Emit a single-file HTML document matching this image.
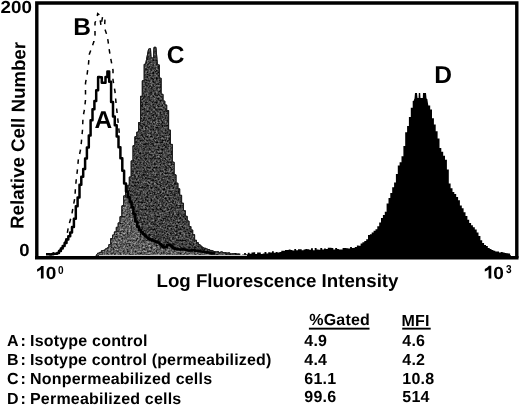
<!DOCTYPE html>
<html><head><meta charset="utf-8"><style>
html,body{margin:0;padding:0;background:#fff;}
body{width:520px;height:406px;overflow:hidden;position:relative;}
svg{position:absolute;left:0;top:0;filter:grayscale(1);}
text{font-family:"Liberation Sans",sans-serif;text-rendering:geometricPrecision;}
</style></head><body>
<svg width="520" height="406" viewBox="0 0 520 406">
<rect x="0" y="0" width="520" height="406" fill="#fff"/>
<defs><clipPath id="cc"><polygon points="96.0,256.0 97.7,253.2 99.6,253.2 99.6,252.4 101.4,252.4 101.4,250.8 103.3,250.8 103.3,250.4 105.1,250.4 105.1,249.0 107.0,249.0 107.0,247.9 108.9,247.9 108.9,244.6 110.7,244.6 110.7,238.6 112.6,238.6 112.6,235.0 114.4,235.0 114.4,231.9 116.3,231.9 116.3,227.3 118.2,227.3 118.2,222.9 120.0,222.9 120.0,216.6 121.9,216.6 121.9,205.8 123.7,205.8 123.7,195.9 125.6,195.9 125.6,190.1 127.5,190.1 127.5,185.3 129.3,185.3 129.3,177.0 131.2,177.0 131.2,160.9 133.0,160.9 133.0,145.7 134.9,145.7 134.9,136.7 136.8,136.7 136.8,132.1 138.6,132.1 138.6,122.5 140.5,122.5 140.5,96.3 142.3,96.3 142.3,80.8 144.2,80.8 144.2,64.3 145.6,64.3 146.5,59.6 148.6,49.0 150.5,48.7 151.0,58.0 153.5,58.0 154.0,47.3 155.9,47.3 157.0,59.6 157.4,64.9 159.3,64.9 159.3,78.2 161.1,78.2 161.1,94.3 163.0,94.3 163.0,101.1 164.8,101.1 164.8,105.0 166.7,105.0 166.7,110.5 168.6,110.5 168.6,130.1 170.4,130.1 170.4,144.4 172.3,144.4 172.3,162.2 174.1,162.2 174.1,174.8 176.0,174.8 176.0,183.2 177.9,183.2 177.9,188.8 179.7,188.8 179.7,195.3 181.6,195.3 181.6,203.2 183.4,203.2 183.4,210.7 185.3,210.7 185.3,216.3 187.2,216.3 187.2,221.1 189.0,221.1 189.0,226.5 190.9,226.5 190.9,230.0 192.7,230.0 192.7,234.7 194.6,234.7 194.6,240.3 196.5,240.3 196.5,242.7 198.3,242.7 198.3,244.8 200.2,244.8 200.2,246.2 202.0,246.2 202.0,247.8 203.9,247.8 203.9,248.3 205.8,248.3 205.8,249.0 207.6,249.0 207.6,249.5 209.5,249.5 209.5,250.4 211.3,250.4 211.3,250.8 213.2,250.8 213.2,251.5 215.1,251.5 215.1,251.9 216.9,251.9 216.9,251.8 218.8,251.8 218.8,252.8 220.6,252.8 220.6,251.9 222.5,251.9 222.5,252.6 224.4,252.6 224.4,252.7 226.2,252.7 226.2,253.1 228.1,253.1 228.1,252.9 229.9,252.9 229.9,254.0 231.8,254.0 231.8,253.8 233.7,253.8 233.7,253.6 235.5,253.6 235.5,254.6 237.4,254.6 237.4,254.3 239.2,254.3 239.2,255.0 240.0,255.0 240.0,257.0"/></clipPath>
<clipPath id="cl"><polygon points="90.0,257.0 90.0,240.0 126.0,191.5 127.8,191.5 127.8,197.1 129.7,197.1 129.7,202.3 131.6,202.3 131.6,207.2 133.4,207.2 133.4,213.9 135.3,213.9 135.3,221.6 137.1,221.6 137.1,226.7 139.0,226.7 139.0,230.0 140.9,230.0 140.9,232.2 142.7,232.2 142.7,234.0 144.6,234.0 144.6,235.8 146.4,235.8 146.4,237.4 148.3,237.4 148.3,239.1 150.2,239.1 150.2,239.4 152.0,239.4 152.0,240.5 153.9,240.5 153.9,241.3 155.7,241.3 155.7,242.0 157.6,242.0 157.6,242.6 159.5,242.6 159.5,244.2 161.3,244.2 161.3,245.7 163.2,245.7 163.2,247.4 165.0,247.4 165.0,247.1 166.9,247.1 166.9,244.9 168.8,244.9 168.8,244.7 170.6,244.7 170.6,245.9 172.5,245.9 172.5,247.7 174.3,247.7 174.3,248.9 176.2,248.9 176.2,249.0 178.1,249.0 178.1,249.5 179.9,249.5 179.9,249.6 181.8,249.6 181.8,249.3 183.6,249.3 183.6,249.6 185.5,249.6 185.5,249.9 187.4,249.9 187.4,250.4 189.2,250.4 189.2,250.5 191.1,250.5 191.1,250.3 192.9,250.3 192.9,250.1 194.8,250.1 194.8,250.7 196.7,250.7 196.7,250.8 198.5,250.8 198.5,251.2 200.4,251.2 200.4,251.6 202.2,251.6 202.2,251.8 204.1,251.8 204.1,251.9 206.0,251.9 206.0,252.4 207.8,252.4 207.8,252.4 209.7,252.4 209.7,252.8 211.5,252.8 211.5,253.6 213.4,253.6 213.4,253.6 215.0,253.6 260.0,254.0 260.0,257.0"/></clipPath>
<filter id="nz" x="0" y="0" width="1" height="1" filterUnits="objectBoundingBox" color-interpolation-filters="sRGB">
<feTurbulence type="fractalNoise" baseFrequency="0.55" numOctaves="2" seed="7"/>
<feColorMatrix type="matrix" values="0.9 0 0 0 -0.2  0.9 0 0 0 -0.2  0.9 0 0 0 -0.2  0 0 0 0 1"/>
</filter>
<filter id="nz2" x="0" y="0" width="1" height="1" filterUnits="objectBoundingBox" color-interpolation-filters="sRGB">
<feTurbulence type="fractalNoise" baseFrequency="0.55" numOctaves="2" seed="11"/>
<feColorMatrix type="matrix" values="1.0 0 0 0 -0.14  1.0 0 0 0 -0.14  1.0 0 0 0 -0.14  0 0 0 0 1"/>
</filter></defs>
<polygon points="96.0,256.0 97.7,253.2 99.6,253.2 99.6,252.4 101.4,252.4 101.4,250.8 103.3,250.8 103.3,250.4 105.1,250.4 105.1,249.0 107.0,249.0 107.0,247.9 108.9,247.9 108.9,244.6 110.7,244.6 110.7,238.6 112.6,238.6 112.6,235.0 114.4,235.0 114.4,231.9 116.3,231.9 116.3,227.3 118.2,227.3 118.2,222.9 120.0,222.9 120.0,216.6 121.9,216.6 121.9,205.8 123.7,205.8 123.7,195.9 125.6,195.9 125.6,190.1 127.5,190.1 127.5,185.3 129.3,185.3 129.3,177.0 131.2,177.0 131.2,160.9 133.0,160.9 133.0,145.7 134.9,145.7 134.9,136.7 136.8,136.7 136.8,132.1 138.6,132.1 138.6,122.5 140.5,122.5 140.5,96.3 142.3,96.3 142.3,80.8 144.2,80.8 144.2,64.3 145.6,64.3 146.5,59.6 148.6,49.0 150.5,48.7 151.0,58.0 153.5,58.0 154.0,47.3 155.9,47.3 157.0,59.6 157.4,64.9 159.3,64.9 159.3,78.2 161.1,78.2 161.1,94.3 163.0,94.3 163.0,101.1 164.8,101.1 164.8,105.0 166.7,105.0 166.7,110.5 168.6,110.5 168.6,130.1 170.4,130.1 170.4,144.4 172.3,144.4 172.3,162.2 174.1,162.2 174.1,174.8 176.0,174.8 176.0,183.2 177.9,183.2 177.9,188.8 179.7,188.8 179.7,195.3 181.6,195.3 181.6,203.2 183.4,203.2 183.4,210.7 185.3,210.7 185.3,216.3 187.2,216.3 187.2,221.1 189.0,221.1 189.0,226.5 190.9,226.5 190.9,230.0 192.7,230.0 192.7,234.7 194.6,234.7 194.6,240.3 196.5,240.3 196.5,242.7 198.3,242.7 198.3,244.8 200.2,244.8 200.2,246.2 202.0,246.2 202.0,247.8 203.9,247.8 203.9,248.3 205.8,248.3 205.8,249.0 207.6,249.0 207.6,249.5 209.5,249.5 209.5,250.4 211.3,250.4 211.3,250.8 213.2,250.8 213.2,251.5 215.1,251.5 215.1,251.9 216.9,251.9 216.9,251.8 218.8,251.8 218.8,252.8 220.6,252.8 220.6,251.9 222.5,251.9 222.5,252.6 224.4,252.6 224.4,252.7 226.2,252.7 226.2,253.1 228.1,253.1 228.1,252.9 229.9,252.9 229.9,254.0 231.8,254.0 231.8,253.8 233.7,253.8 233.7,253.6 235.5,253.6 235.5,254.6 237.4,254.6 237.4,254.3 239.2,254.3 239.2,255.0 240.0,255.0 240.0,257.0" fill="#444" stroke="#222" stroke-width="1"/>
<g clip-path="url(#cc)"><rect x="95" y="45" width="150" height="212" filter="url(#nz)"/></g>
<g clip-path="url(#cc)"><g clip-path="url(#cl)"><rect x="95" y="180" width="150" height="77" filter="url(#nz2)"/></g></g>
<polygon points="96.0,256.0 97.7,253.2 99.6,253.2 99.6,252.4 101.4,252.4 101.4,250.8 103.3,250.8 103.3,250.4 105.1,250.4 105.1,249.0 107.0,249.0 107.0,247.9 108.9,247.9 108.9,244.6 110.7,244.6 110.7,238.6 112.6,238.6 112.6,235.0 114.4,235.0 114.4,231.9 116.3,231.9 116.3,227.3 118.2,227.3 118.2,222.9 120.0,222.9 120.0,216.6 121.9,216.6 121.9,205.8 123.7,205.8 123.7,195.9 125.6,195.9 125.6,190.1 127.5,190.1 127.5,185.3 129.3,185.3 129.3,177.0 131.2,177.0 131.2,160.9 133.0,160.9 133.0,145.7 134.9,145.7 134.9,136.7 136.8,136.7 136.8,132.1 138.6,132.1 138.6,122.5 140.5,122.5 140.5,96.3 142.3,96.3 142.3,80.8 144.2,80.8 144.2,64.3 145.6,64.3 146.5,59.6 148.6,49.0 150.5,48.7 151.0,58.0 153.5,58.0 154.0,47.3 155.9,47.3 157.0,59.6 157.4,64.9 159.3,64.9 159.3,78.2 161.1,78.2 161.1,94.3 163.0,94.3 163.0,101.1 164.8,101.1 164.8,105.0 166.7,105.0 166.7,110.5 168.6,110.5 168.6,130.1 170.4,130.1 170.4,144.4 172.3,144.4 172.3,162.2 174.1,162.2 174.1,174.8 176.0,174.8 176.0,183.2 177.9,183.2 177.9,188.8 179.7,188.8 179.7,195.3 181.6,195.3 181.6,203.2 183.4,203.2 183.4,210.7 185.3,210.7 185.3,216.3 187.2,216.3 187.2,221.1 189.0,221.1 189.0,226.5 190.9,226.5 190.9,230.0 192.7,230.0 192.7,234.7 194.6,234.7 194.6,240.3 196.5,240.3 196.5,242.7 198.3,242.7 198.3,244.8 200.2,244.8 200.2,246.2 202.0,246.2 202.0,247.8 203.9,247.8 203.9,248.3 205.8,248.3 205.8,249.0 207.6,249.0 207.6,249.5 209.5,249.5 209.5,250.4 211.3,250.4 211.3,250.8 213.2,250.8 213.2,251.5 215.1,251.5 215.1,251.9 216.9,251.9 216.9,251.8 218.8,251.8 218.8,252.8 220.6,252.8 220.6,251.9 222.5,251.9 222.5,252.6 224.4,252.6 224.4,252.7 226.2,252.7 226.2,253.1 228.1,253.1 228.1,252.9 229.9,252.9 229.9,254.0 231.8,254.0 231.8,253.8 233.7,253.8 233.7,253.6 235.5,253.6 235.5,254.6 237.4,254.6 237.4,254.3 239.2,254.3 239.2,255.0 240.0,255.0 240.0,257.0" fill="none" stroke="#1a1a1a" stroke-width="1"/>
<polygon points="205.0,255.7 206.9,255.7 206.9,255.9 208.7,255.9 208.7,256.0 210.6,256.0 210.6,256.2 212.4,256.2 212.4,255.7 214.3,255.7 214.3,256.0 216.2,256.0 216.2,254.0 218.0,254.0 218.0,254.9 219.9,254.9 219.9,255.8 221.7,255.8 221.7,255.1 223.6,255.1 223.6,255.6 225.5,255.6 225.5,253.8 227.3,253.8 227.3,254.5 229.2,254.5 229.2,253.9 231.0,253.9 231.0,254.5 232.9,254.5 232.9,254.5 234.8,254.5 234.8,253.1 236.6,253.1 236.6,253.5 238.5,253.5 238.5,253.5 240.3,253.5 240.3,254.9 242.2,254.9 242.2,254.4 244.1,254.4 244.1,253.0 245.9,253.0 245.9,254.3 247.8,254.3 247.8,252.8 249.6,252.8 249.6,253.7 251.5,253.7 251.5,252.6 253.4,252.6 253.4,252.2 255.2,252.2 255.2,254.0 257.1,254.0 257.1,252.5 258.9,252.5 258.9,252.4 260.8,252.4 260.8,253.9 262.7,253.9 262.7,253.5 264.5,253.5 264.5,252.1 266.4,252.1 266.4,253.4 268.2,253.4 268.2,252.3 270.1,252.3 270.1,252.5 272.0,252.5 272.0,251.3 273.8,251.3 273.8,252.7 275.7,252.7 275.7,252.0 277.5,252.0 277.5,252.5 279.4,252.5 279.4,252.1 281.3,252.1 281.3,250.7 283.1,250.7 283.1,250.7 285.0,250.7 285.0,250.1 286.8,250.1 286.8,249.9 288.7,249.9 288.7,249.6 290.6,249.6 290.6,249.9 292.4,249.9 292.4,250.4 294.3,250.4 294.3,248.9 296.1,248.9 296.1,250.3 298.0,250.3 298.0,249.3 299.9,249.3 299.9,249.2 301.7,249.2 301.7,250.2 303.6,250.2 303.6,249.4 305.4,249.4 305.4,249.0 307.3,249.0 307.3,249.3 309.2,249.3 309.2,249.7 311.0,249.7 311.0,248.3 312.9,248.3 312.9,250.2 314.7,250.2 314.7,248.1 316.6,248.1 316.6,249.6 318.5,249.6 318.5,249.8 320.3,249.8 320.3,247.9 322.2,247.9 322.2,249.6 324.0,249.6 324.0,248.6 325.9,248.6 325.9,249.0 327.8,249.0 327.8,247.7 329.6,247.7 329.6,247.7 331.5,247.7 331.5,248.0 333.3,248.0 333.3,249.6 335.2,249.6 335.2,247.9 337.1,247.9 337.1,249.1 338.9,249.1 338.9,249.4 340.8,249.4 340.8,249.4 342.6,249.4 342.6,248.0 344.5,248.0 344.5,247.9 346.4,247.9 346.4,248.2 348.2,248.2 348.2,248.6 350.1,248.6 350.1,246.9 351.9,246.9 351.9,248.0 353.8,248.0 353.8,247.8 355.0,247.8 355.0,247.1 356.9,247.1 356.9,245.4 358.7,245.4 358.7,245.8 360.6,245.8 360.6,243.6 362.4,243.6 362.4,242.3 364.3,242.3 364.3,241.1 366.2,241.1 366.2,239.2 368.0,239.2 368.0,234.9 369.9,234.9 369.9,234.2 371.7,234.2 371.7,232.4 373.6,232.4 373.6,230.8 375.5,230.8 375.5,229.2 377.3,229.2 377.3,226.3 379.2,226.3 379.2,222.4 381.0,222.4 381.0,217.9 382.9,217.9 382.9,215.0 384.8,215.0 384.8,211.8 386.6,211.8 386.6,203.6 388.5,203.6 388.5,198.1 390.3,198.1 390.3,193.0 392.2,193.0 392.2,187.2 394.1,187.2 394.1,182.4 395.9,182.4 395.9,174.0 397.8,174.0 397.8,165.5 399.6,165.5 399.6,162.3 401.5,162.3 401.5,156.3 403.4,156.3 403.4,146.0 405.2,146.0 405.2,132.2 407.1,132.2 407.1,125.9 408.9,125.9 408.9,117.0 410.8,117.0 410.8,107.8 412.7,107.8 412.7,101.0 413.5,101.0 414.5,98.4 415.0,93.0 417.0,93.0 417.5,98.0 418.6,98.0 418.8,93.0 420.2,93.0 420.5,98.0 422.8,98.0 423.0,93.0 426.0,93.0 426.5,98.4 427.3,99.0 428.3,105.5 430.2,105.5 430.2,109.4 432.0,109.4 432.0,118.3 433.9,118.3 433.9,124.5 435.7,124.5 435.7,131.3 437.6,131.3 437.6,138.4 439.5,138.4 439.5,147.9 441.3,147.9 441.3,151.8 443.2,151.8 443.2,155.7 445.0,155.7 445.0,159.7 446.9,159.7 446.9,169.6 448.8,169.6 448.8,183.4 450.6,183.4 450.6,188.2 452.5,188.2 452.5,191.9 454.3,191.9 454.3,193.9 456.2,193.9 456.2,196.9 458.1,196.9 458.1,200.3 459.9,200.3 459.9,205.5 461.8,205.5 461.8,208.2 463.6,208.2 463.6,212.2 465.5,212.2 465.5,216.1 467.4,216.1 467.4,219.7 469.2,219.7 469.2,222.9 471.1,222.9 471.1,225.3 472.9,225.3 472.9,227.3 474.8,227.3 474.8,229.6 476.7,229.6 476.7,232.5 478.5,232.5 478.5,236.0 480.4,236.0 480.4,240.3 482.2,240.3 482.2,242.9 484.1,242.9 484.1,244.9 486.0,244.9 486.0,245.9 487.8,245.9 487.8,247.9 489.7,247.9 489.7,249.0 491.5,249.0 491.5,249.9 493.4,249.9 493.4,250.7 495.3,250.7 495.3,251.4 497.1,251.4 497.1,251.6 499.0,251.6 499.0,252.4 500.8,252.4 500.8,252.1 502.7,252.1 502.7,252.5 504.6,252.5 504.6,253.1 506.4,253.1 506.4,253.2 508.3,253.2 508.3,253.6 510.1,253.6 510.1,255.2 511.0,255.2 511.0,257.0 205.0,257.0" fill="#000"/>
<rect x="99" y="254.9" width="148" height="1.1" fill="#c8c8c8"/>
<polyline points="50.0,254.5 60.0,250.0 64.0,245.0 66.5,238.0 68.2,228.0 69.5,223.0 71.7,215.0 73.5,205.0 75.0,197.0 75.3,190.0 76.2,180.0 77.4,170.0 78.3,160.0 80.5,150.0 81.4,142.0 82.5,130.0 83.0,117.0 84.4,110.0 85.5,100.0 85.5,83.0 87.0,75.0 88.4,65.0 89.4,54.0 92.7,45.0 93.9,41.6 95.0,35.0 95.0,22.7 96.6,19.4 97.7,13.6 98.8,14.5 99.5,17.0 100.5,22.0 101.0,26.0 102.0,20.0 102.7,16.1 105.0,18.9 104.6,26.0 105.2,30.0 107.2,36.0 108.2,42.0 108.8,47.0 110.6,58.0 112.0,65.0 113.0,70.0 113.0,80.0 115.0,91.6 116.0,102.7 117.0,112.0 118.0,121.0 119.3,133.3" fill="none" stroke="#000" stroke-width="1.5" stroke-dasharray="4.5,5.5"/>
<polyline points="46.0,254.3 47.9,254.3 47.9,254.3 49.7,254.3 49.7,254.4 51.6,254.4 51.6,254.2 53.4,254.2 53.4,253.7 55.3,253.7 55.3,253.8 57.2,253.8 57.2,253.1 59.0,253.1 59.0,251.0 60.9,251.0 60.9,248.6 62.7,248.6 62.7,246.1 64.6,246.1 64.6,242.9 66.5,242.9 66.5,239.6 68.3,239.6 68.3,236.3 70.2,236.3 70.2,232.6 72.0,232.6 72.0,227.1 73.9,227.1 73.9,218.8 75.8,218.8 75.8,206.2 77.6,206.2 77.6,197.5 79.5,197.5 79.5,184.8 81.3,184.8 81.3,176.7 83.2,176.7 83.2,169.0 85.1,169.0 85.1,158.4 86.9,158.4 86.9,147.6 88.8,147.6 88.8,135.6 90.6,135.6 90.6,120.2 92.5,120.2 92.5,109.2 94.4,109.2 94.4,101.0 96.2,101.0 96.2,90.3 98.1,90.3 98.1,76.9 99.9,76.9 99.9,77.3 101.8,77.3 101.8,82.8 103.7,82.8 103.7,82.8 105.5,82.8 105.5,77.1 107.4,77.1 107.4,71.4 109.2,71.4 109.2,81.7 111.1,81.7 111.1,101.9 113.0,101.9 113.0,116.6 114.8,116.6 114.8,125.2 116.7,125.2 116.7,136.5 118.5,136.5 118.5,147.3 120.4,147.3 120.4,158.2 122.3,158.2 122.3,170.7 124.1,170.7 124.1,183.6 126.0,183.6 126.0,191.5 127.8,191.5 127.8,197.1 129.7,197.1 129.7,202.3 131.6,202.3 131.6,207.2 133.4,207.2 133.4,213.9 135.3,213.9 135.3,221.6 137.1,221.6 137.1,226.7 139.0,226.7 139.0,230.0 140.9,230.0 140.9,232.2 142.7,232.2 142.7,234.0 144.6,234.0 144.6,235.8 146.4,235.8 146.4,237.4 148.3,237.4 148.3,239.1 150.2,239.1 150.2,239.4 152.0,239.4 152.0,240.5 153.9,240.5 153.9,241.3 155.7,241.3 155.7,242.0 157.6,242.0 157.6,242.6 159.5,242.6 159.5,244.2 161.3,244.2 161.3,245.7 163.2,245.7 163.2,247.4 165.0,247.4 165.0,247.1 166.9,247.1 166.9,244.9 168.8,244.9 168.8,244.7 170.6,244.7 170.6,245.9 172.5,245.9 172.5,247.7 174.3,247.7 174.3,248.9 176.2,248.9 176.2,249.0 178.1,249.0 178.1,249.5 179.9,249.5 179.9,249.6 181.8,249.6 181.8,249.3 183.6,249.3 183.6,249.6 185.5,249.6 185.5,249.9 187.4,249.9 187.4,250.4 189.2,250.4 189.2,250.5 191.1,250.5 191.1,250.3 192.9,250.3 192.9,250.1 194.8,250.1 194.8,250.7 196.7,250.7 196.7,250.8 198.5,250.8 198.5,251.2 200.4,251.2 200.4,251.6 202.2,251.6 202.2,251.8 204.1,251.8 204.1,251.9 206.0,251.9 206.0,252.4 207.8,252.4 207.8,252.4 209.7,252.4 209.7,252.8 211.5,252.8 211.5,253.6 213.4,253.6 213.4,253.6 215.0,253.6" fill="none" stroke="#000" stroke-width="2.5" stroke-linejoin="round"/>
<path d="M36.8,259 V3 H516.8 V258" fill="none" stroke="#000" stroke-width="3.4"/>
<rect x="35" y="256" width="483.5" height="3.5" fill="#000"/>
<g font-weight="bold" font-size="24.5" fill="#000">
<text x="73.2" y="34.9">B</text>
<text x="166.8" y="62.5">C</text>
<text x="434.2" y="82.8">D</text>
<text x="94.4" y="128.4">A</text>
</g>
<g font-size="17.5" font-weight="bold" fill="#000">
<text x="0.6" y="12.8" textLength="31.3" lengthAdjust="spacingAndGlyphs">200</text>
<text x="19.3" y="255.9" textLength="10.3" lengthAdjust="spacingAndGlyphs">0</text>
<path d="M43.6,266 L43.6,278.6 L40.9,278.6 L40.9,269.6 Q39.2,271 37.1,271.7 L37.1,269.2 Q39.9,268 41.3,266 Z"/>
<text x="45.7" y="278.6" textLength="10.6" lengthAdjust="spacingAndGlyphs">0</text>
<text x="57.9" y="273.7" font-size="11.5" textLength="5.6" lengthAdjust="spacingAndGlyphs">0</text>
<path transform="translate(447.7,-0.2)" d="M43.6,266 L43.6,278.6 L40.9,278.6 L40.9,269.6 Q39.2,271 37.1,271.7 L37.1,269.2 Q39.9,268 41.3,266 Z"/>
<text x="493.3" y="278.6" textLength="10.6" lengthAdjust="spacingAndGlyphs">0</text>
<text x="505.9" y="273.4" font-size="11.5" textLength="5.6" lengthAdjust="spacingAndGlyphs">3</text>
</g>
<text font-weight="bold" font-size="18.7" transform="translate(23.4,228.9) rotate(-89.4)">Relative Cell Number</text>
<text font-weight="bold" font-size="18.7" x="156.5" y="286.9">Log Fluorescence Intensity</text>
<g font-weight="bold" font-size="16" fill="#000" letter-spacing="0.2">
<text x="309.3" y="325.3">%Gated</text>
<text x="401.5" y="325.5">MFI</text>
<text x="7.1" y="346.2">A</text><text x="20.4" y="346.2">:</text><text x="30" y="346.2">Isotype control</text>
<text x="304.3" y="345.8">4.9</text><text x="402.3" y="345.9">4.6</text>
<text x="7.1" y="365.3">B</text><text x="20.4" y="365.3">:</text><text x="30" y="365.3" letter-spacing="0.16">Isotype control (permeabilized)</text>
<text x="304.3" y="364.7">4.4</text><text x="402.3" y="364.7">4.2</text>
<text x="7.1" y="384.4">C</text><text x="20.4" y="384.4">:</text><text x="30" y="384.4">Nonpermeabilized cells</text>
<text x="304.3" y="383.5">61.1</text><text x="402.3" y="383.5">10.8</text>
<text x="7.1" y="403.5">D</text><text x="20.4" y="403.5">:</text><text x="30" y="403.5">Permeabilized cells</text>
<text x="304.3" y="402.3">99.6</text><text x="402.3" y="402.3">514</text>
</g>
<rect x="308.9" y="327.7" width="60.6" height="1.9" fill="#000"/>
<rect x="402.2" y="327.7" width="28.5" height="1.9" fill="#000"/>
</svg>
</body></html>
